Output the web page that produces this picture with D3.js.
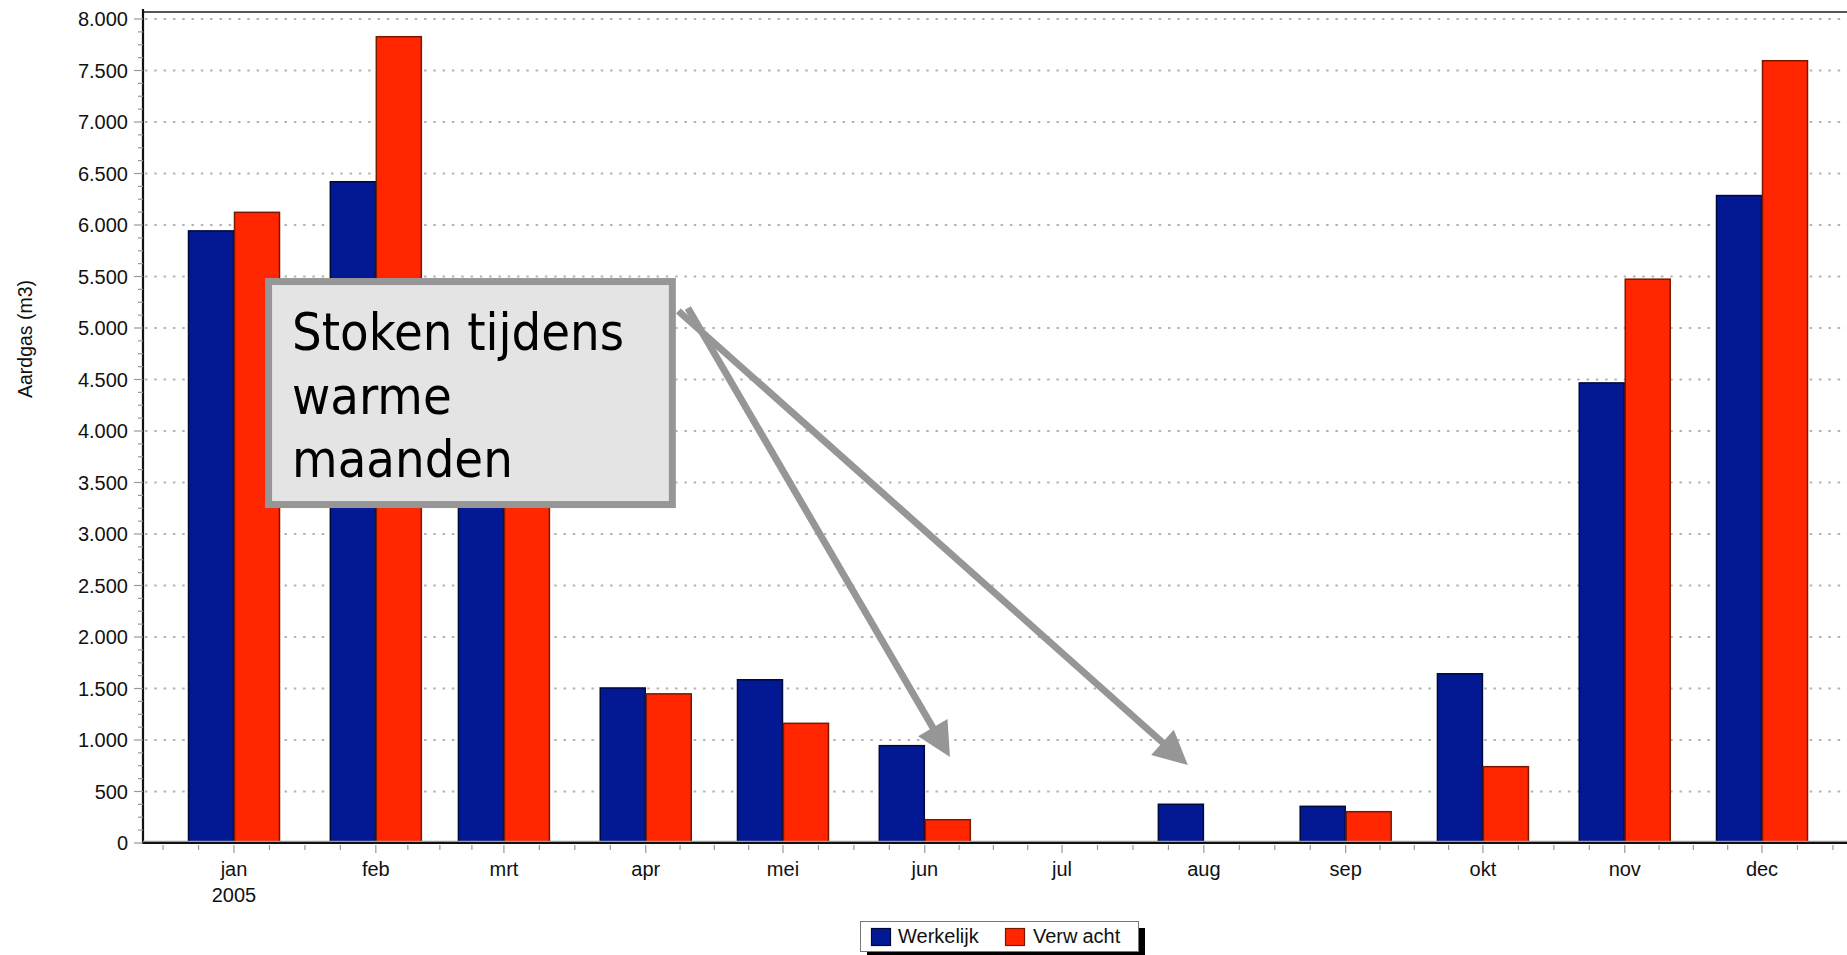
<!DOCTYPE html>
<html>
<head>
<meta charset="utf-8">
<script src="https://cdn.jsdelivr.net/npm/d3@7"></script>
<style>
  html, body { margin: 0; padding: 0; background: #fff; overflow: hidden; }
  svg { display: block; }
  text { font-family: "Liberation Sans", Arial, sans-serif; }
</style>
</head>
<body>
<svg id="chart" width="1847" height="955"></svg>
<script>
// ---- data ----
const months = ["jan","feb","mrt","apr","mei","jun","jul","aug","sep","okt","nov","dec"];
const year = 2005;
const werkelijk = [5943, 6420, 4700, 1505, 1585, 945, 12, 376, 356, 1643, 4467, 6286];
const verwacht  = [6123, 7828, 5000, 1448, 1162, 226, 12, 10, 304, 741, 5474, 7595];
const yTicks = [0,500,1000,1500,2000,2500,3000,3500,4000,4500,5000,5500,6000,6500,7000,7500,8000];
const seriesNames = ["Werkelijk", "Verwacht"];
const colors = ["#031993", "#ff2600"];
const strokes = ["#000a3a", "#7a1800"];
const yLabel = "Aardgas (m3)";
const noteLines = ["Stoken tijdens", "warme", "maanden"];

// ---- layout ----
const W = 1847, H = 955;
const pLeft = 143, pTop = 12, pBottom = 843, pRight = W;
const svg = d3.select("#chart");

const dates = months.map((m, i) => new Date(year, i, 1));
const x = d3.scaleTime()
  .domain([new Date(year, 0, 1), new Date(year, 11, 1)])
  .range([234, 1762]);
const y = d3.scaleLinear().domain([0, 8000]).range([pBottom, 19]);
const nl = d3.formatLocale({decimal: ",", thousands: ".", grouping: [3], currency: ["€", ""]});
const fmt = nl.format(",d");

// gridlines
svg.append("g").selectAll("line").data(yTicks.filter(t => t > 0)).join("line")
  .attr("x1", pLeft + 2).attr("x2", pRight)
  .attr("y1", d => y(d)).attr("y2", d => y(d))
  .attr("stroke", "#b4b4b4").attr("stroke-width", 2)
  .attr("stroke-dasharray", "2.5 6.8");

// top border
svg.append("line").attr("x1", pLeft).attr("x2", pRight).attr("y1", pTop).attr("y2", pTop)
  .attr("stroke", "#555").attr("stroke-width", 2);

// bars
const bw = 46;
const gBars = svg.append("g");
[werkelijk, verwacht].forEach((vals, s) => {
  gBars.append("g").selectAll("rect").data(vals).join("rect")
    .attr("x", (d, i) => s === 0 ? x(dates[i]) - bw + 0.5 : x(dates[i]) + 0.5)
    .attr("y", d => y(d))
    .attr("width", bw - 1)
    .attr("height", d => Math.max(0.5, y(0) - y(d)))
    .attr("fill", colors[s])
    .attr("stroke", strokes[s])
    .attr("stroke-width", 1.5);
});

// y axis line
svg.append("line").attr("x1", pLeft).attr("x2", pLeft).attr("y1", pTop - 3).attr("y2", pBottom + 1)
  .attr("stroke", "#111").attr("stroke-width", 2.2);
// x axis line
svg.append("line").attr("x1", pLeft).attr("x2", pRight).attr("y1", pBottom - 1.5).attr("y2", pBottom - 1.5)
  .attr("stroke", "#9a9a9a").attr("stroke-width", 1.5);
svg.append("line").attr("x1", pLeft).attr("x2", pRight).attr("y1", pBottom).attr("y2", pBottom)
  .attr("stroke", "#111").attr("stroke-width", 1.8);

// y ticks major + minor
const yMinor = d3.range(0, 8001, 125).filter(v => v % 500 !== 0);
svg.append("g").selectAll("line").data(yMinor).join("line")
  .attr("x1", pLeft - 5).attr("x2", pLeft).attr("y1", d => y(d)).attr("y2", d => y(d))
  .attr("stroke", "#999").attr("stroke-width", 1.2);
svg.append("g").selectAll("line").data(yTicks).join("line")
  .attr("x1", pLeft - 9).attr("x2", pLeft).attr("y1", d => y(d)).attr("y2", d => y(d))
  .attr("stroke", "#999").attr("stroke-width", 1.2);
svg.append("g").selectAll("text").data(yTicks).join("text")
  .attr("x", pLeft - 15).attr("y", d => y(d)).attr("dy", "0.35em")
  .attr("text-anchor", "end").attr("font-size", 20).attr("fill", "#111")
  .text(d => fmt(d));

// x ticks: minor quarter-month ticks
const xMinor = [];
for (let m = -1; m <= 12; m++) {
  const a = new Date(year, m, 1), b = new Date(year, m + 1, 1);
  for (let k = 1; k < 4; k++) {
    xMinor.push(new Date(+a + (b - a) * k / 4));
  }
}
const xMajorAll = d3.range(-1, 13).map(m => new Date(year, m, 1));
svg.append("g").selectAll("line").data(xMinor.filter(d => x(d) > pLeft && x(d) < pRight)).join("line")
  .attr("x1", d => x(d)).attr("x2", d => x(d)).attr("y1", pBottom + 2).attr("y2", pBottom + 7)
  .attr("stroke", "#999").attr("stroke-width", 1.2);
svg.append("g").selectAll("line").data(xMajorAll.filter(d => x(d) > pLeft && x(d) < pRight)).join("line")
  .attr("x1", d => x(d)).attr("x2", d => x(d)).attr("y1", pBottom + 2).attr("y2", pBottom + 10)
  .attr("stroke", "#999").attr("stroke-width", 1.2);
svg.append("g").selectAll("text").data(dates).join("text")
  .attr("x", d => x(d)).attr("y", 876)
  .attr("text-anchor", "middle").attr("font-size", 20).attr("fill", "#111")
  .text((d, i) => months[i]);
svg.append("text").attr("x", x(dates[0])).attr("y", 902)
  .attr("text-anchor", "middle").attr("font-size", 20).attr("fill", "#111").text(String(year));

// y label
svg.append("text").attr("transform", "translate(32,339) rotate(-90)")
  .attr("text-anchor", "middle").attr("font-size", 19.5).attr("fill", "#111").text(yLabel);

// annotation arrows (anchored in data space)
const arrows = [
  {from: [new Date(year, 3, 10, 5), 5194], to: [new Date(year, 5, 6, 12), 835]},
  {from: [new Date(year, 3, 8, 3), 5165], to: [new Date(year, 6, 28, 12), 757]}
];
const gArr = svg.append("g");
arrows.forEach(a => {
  const x0 = x(a.from[0]), y0 = y(a.from[1]), x1 = x(a.to[0]), y1 = y(a.to[1]);
  const L = Math.hypot(x1 - x0, y1 - y0), ux = (x1 - x0) / L, uy = (y1 - y0) / L;
  const hl = 34, hw = 17;
  const bx = x1 - ux * hl, by = y1 - uy * hl;
  gArr.append("line").attr("x1", x0).attr("y1", y0).attr("x2", bx + ux * 2).attr("y2", by + uy * 2)
    .attr("stroke", "#969696").attr("stroke-width", 7);
  gArr.append("polygon")
    .attr("points", [[x1, y1], [bx - uy * hw, by + ux * hw], [bx + uy * hw, by - ux * hw]].map(p => p.join(",")).join(" "))
    .attr("fill", "#969696");
});

// annotation box
const bx0 = x(new Date(year, 0, 7, 19)), bx1 = x(new Date(year, 3, 7, 14));
const by0 = y(5485), by1 = y(3252);
svg.append("rect").attr("x", bx0 + 3.5).attr("y", by0 + 3.5)
  .attr("width", bx1 - bx0 - 7).attr("height", by1 - by0 - 7)
  .attr("fill", "#e4e4e4").attr("stroke", "#969696").attr("stroke-width", 7);
svg.append("g").selectAll("text").data(noteLines).join("text")
  .attr("x", bx0 + 27).attr("y", (d, i) => by0 + 72 + i * 63.5)
  .attr("font-size", 52).attr("fill", "#000")
  .style("font-family", '"DejaVu Sans Condensed", "DejaVu Sans", sans-serif')
  .style("font-stretch", "condensed")
  .text(d => d);

// legend
const lg = svg.append("g");
const lx = 860, ly = 921, lw = 278, lh = 30;
lg.append("rect").attr("x", lx + 7).attr("y", ly + 7).attr("width", lw).attr("height", lh).attr("fill", "#000");
lg.append("rect").attr("x", lx + 0.5).attr("y", ly + 0.5).attr("width", lw).attr("height", lh)
  .attr("fill", "#fff").attr("stroke", "#777").attr("stroke-width", 1);
const items = [{sx: 871, tx: 898}, {sx: 1005, tx: 1033}];
items.forEach((it, i) => {
  lg.append("rect").attr("x", it.sx + 0.5).attr("y", 928.5).attr("width", 19).attr("height", 17)
    .attr("fill", colors[i]).attr("stroke", strokes[i]).attr("stroke-width", 1.2);
  const t = lg.append("text").attr("x", it.tx).attr("y", 943).attr("font-size", 20).attr("fill", "#111");
  if (i === 1) {
    t.append("tspan").text("Verw");
    t.append("tspan").attr("dx", 5).text("acht");
  } else {
    t.text(seriesNames[i]);
  }
});
</script>
</body>
</html>
